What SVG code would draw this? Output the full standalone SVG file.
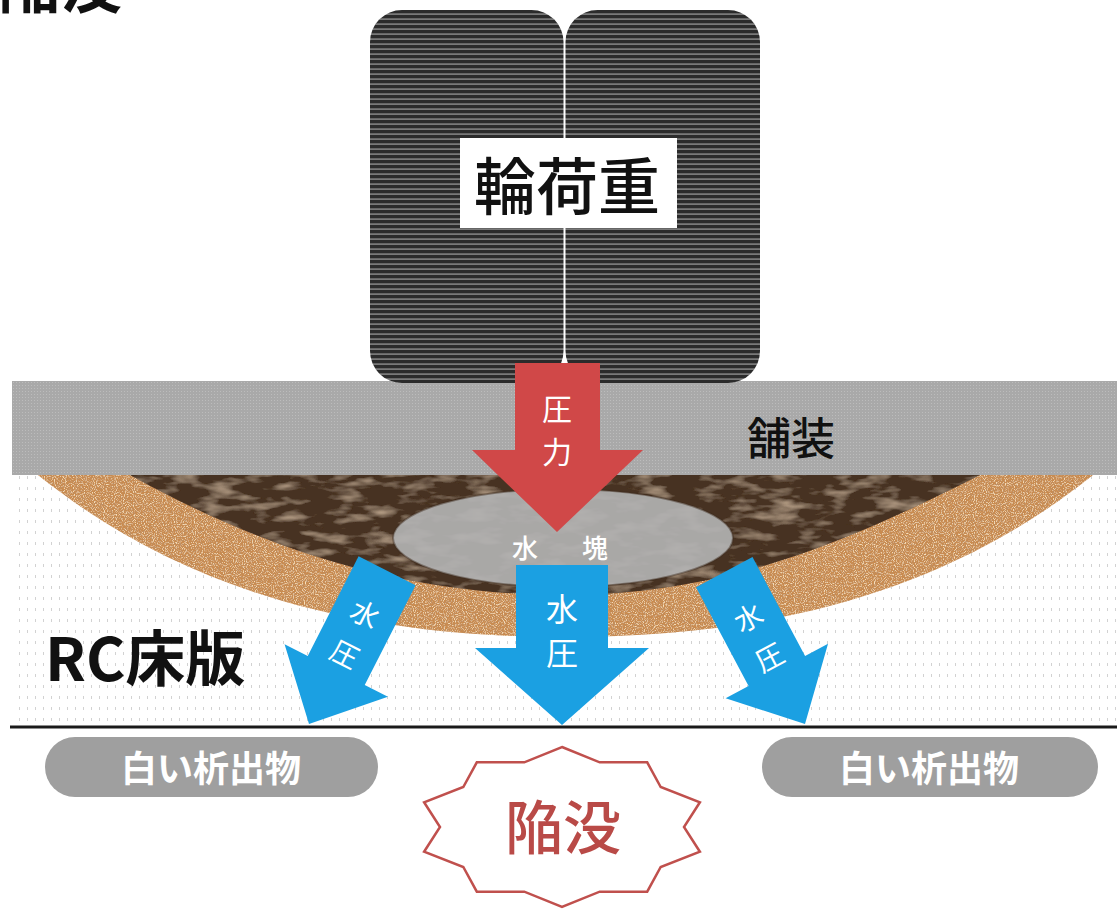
<svg xmlns="http://www.w3.org/2000/svg" width="1117" height="909" viewBox="0 0 1117 909">
  <defs>
    <style>
      .jp { font-family: "Noto Sans CJK JP", "Noto Sans", sans-serif; }
      .wt { fill: #ffffff; text-anchor: middle; dominant-baseline: central; }
      .blue { fill: #1ba0e2; }
      .pill { fill: #9f9f9f; }
      .pilltxt { fill: #ffffff; font-size: 36px; font-weight: 700; text-anchor: middle; dominant-baseline: central; }
    </style>
    <!-- horizontal tread lines of the tyres -->
    <pattern id="tread" width="10" height="5" patternUnits="userSpaceOnUse">
      <rect width="10" height="5" fill="#2b2b2b"/>
      <rect y="3.4" width="10" height="1.4" fill="#8c8c8c"/>
    </pattern>
    <!-- fine grain of the asphalt layer -->
    <pattern id="asphalt" width="3" height="3" patternUnits="userSpaceOnUse">
      <rect width="3" height="3" fill="#a9a9a9"/>
      <rect x="1" y="1" width="1" height="1" fill="#bcbcbc"/>
    </pattern>
    <!-- concrete stipple of the deck slab -->
    <pattern id="concrete" width="8" height="11" patternUnits="userSpaceOnUse">
      <rect width="8" height="11" fill="#ffffff"/>
      <rect x="3" y="3" width="1" height="3" fill="#d2d2d2"/>
    </pattern>
    <!-- sandy speckle for the weakened outer zone -->
    <filter id="sand" x="0" y="0" width="100%" height="100%">
      <feTurbulence type="fractalNoise" baseFrequency="0.7" numOctaves="2" seed="4" result="n"/>
      <feColorMatrix in="n" type="matrix" values="0 0 0 0 0.5  0 0 0 0 0.28  0 0 0 0 0.14  4 0 0 0 -2.0" result="dk"/>
      <feComposite in="dk" in2="SourceGraphic" operator="in" result="dk2"/>
      <feTurbulence type="fractalNoise" baseFrequency="0.9" numOctaves="1" seed="9" result="m"/>
      <feColorMatrix in="m" type="matrix" values="0 0 0 0 0.93  0 0 0 0 0.74  0 0 0 0 0.5  4 0 0 0 -2.0" result="lt"/>
      <feComposite in="lt" in2="SourceGraphic" operator="in" result="lt2"/>
      <feMerge><feMergeNode in="SourceGraphic"/><feMergeNode in="dk2"/><feMergeNode in="lt2"/></feMerge>
    </filter>
    <!-- streaky texture for the crumbled core -->
    <filter id="crumble" x="0" y="0" width="100%" height="100%">
      <feTurbulence type="fractalNoise" baseFrequency="0.03 0.09" numOctaves="3" seed="2" result="n"/>
      <feColorMatrix in="n" type="matrix" values="0 0 0 0 0.45  0 0 0 0 0.33  0 0 0 0 0.23  2.4 0 0 0 -1.15" result="st"/>
      <feComposite in="st" in2="SourceGraphic" operator="in" result="st2"/>
      <feMerge><feMergeNode in="SourceGraphic"/><feMergeNode in="st2"/></feMerge>
    </filter>
  </defs>

  <rect width="1117" height="909" fill="#ffffff"/>

  <!-- heading, partly cut off at the top edge -->
  <text class="jp" x="-2" y="8" font-size="62" font-weight="700" fill="#111">陥没</text>

  <!-- RC deck slab -->
  <g id="slab">
    <rect x="12" y="474" width="1105" height="253" fill="url(#concrete)"/>
    <path id="weak-zone" d="M 38 475 C 188 595, 365 637, 565 637 C 765 637, 943 595, 1093 475 Z" fill="#c98b50" filter="url(#sand)"/>
    <path id="crumbled-core" d="M 130 475 C 260 547, 400 595, 565 595 C 730 595, 857 537, 980 475 Z" fill="#473021" filter="url(#crumble)"/>
    <text class="jp" x="45" y="681" font-size="60" font-weight="700" fill="#111">RC床版</text>
  </g>

  <!-- pavement layer -->
  <g id="pavement">
    <rect x="12" y="381" width="1105" height="94" fill="url(#asphalt)"/>
    <text class="jp" x="791" y="436" font-size="44" font-weight="500" fill="#111" text-anchor="middle" dominant-baseline="central">舗装</text>
  </g>

  <!-- twin tyres carrying the wheel load -->
  <g id="wheel-load">
    <rect x="370" y="10" width="193.5" height="373" rx="32" fill="url(#tread)"/>
    <rect x="565.5" y="10" width="194.5" height="373" rx="32" fill="url(#tread)"/>
    <rect x="460" y="138" width="217" height="90" fill="#ffffff"/>
    <text class="jp" x="567" y="183" font-size="62" font-weight="500" fill="#111" text-anchor="middle" dominant-baseline="central">輪荷重</text>
  </g>

  <!-- trapped water pocket -->
  <g id="water-pocket">
    <ellipse cx="563" cy="538" rx="170" ry="49" fill="#b2b2b2" fill-opacity="0.92" stroke="#3e2c20" stroke-opacity="0.45" stroke-width="2"/>
    <text class="jp wt" x="525" y="546" font-size="26" font-weight="500">水</text>
    <text class="jp wt" x="595" y="546" font-size="26" font-weight="500">塊</text>
  </g>

  <!-- load and water-pressure arrows -->
  <g id="connectors">
    <g id="pressure">
      <path d="M 515 363 H 600 V 450 H 643 L 557 532 L 472 450 H 515 Z" fill="#d04848"/>
      <text class="jp wt" x="557" y="407" font-size="30">圧</text>
      <text class="jp wt" x="557" y="450" font-size="30">力</text>
    </g>
    <g id="water-pressure-left" transform="translate(309 724) rotate(27)">
      <path class="blue" d="M -32 -172 H 32 V -60 H 58 L 0 0 L -58 -60 H -32 Z"/>
      <text class="jp wt" x="0" y="-125" font-size="28">水</text>
      <text class="jp wt" x="0" y="-80" font-size="28">圧</text>
    </g>
    <g id="water-pressure-centre" transform="translate(562 725)">
      <path class="blue" d="M -46 -160 H 46 V -77 H 87 L 0 0 L -87 -77 H -46 Z"/>
      <text class="jp wt" x="0" y="-118" font-size="32">水</text>
      <text class="jp wt" x="0" y="-74" font-size="32">圧</text>
    </g>
    <g id="water-pressure-right" transform="translate(805 724) rotate(-28)">
      <path class="blue" d="M -32 -172 H 32 V -60 H 58 L 0 0 L -58 -60 H -32 Z"/>
      <text class="jp wt" x="0" y="-122" font-size="28">水</text>
      <text class="jp wt" x="0" y="-77" font-size="28">圧</text>
    </g>
  </g>

  <!-- underside of the slab -->
  <line x1="10" y1="727" x2="1117" y2="727" stroke="#1a1a1a" stroke-width="3"/>

  <!-- white efflorescence on the underside -->
  <g id="efflorescence-left">
    <rect class="pill" x="45" y="737" width="333" height="60" rx="30"/>
    <text class="jp pilltxt" x="211" y="766">白い析出物</text>
  </g>
  <g id="efflorescence-right">
    <rect class="pill" x="762" y="737" width="336" height="60" rx="30"/>
    <text class="jp pilltxt" x="929" y="766">白い析出物</text>
  </g>

  <!-- punching failure burst -->
  <g id="collapse">
    <path d="M 562 747 L 599.7 762.3 L 647.2 762.3 L 660.7 787 L 699.9 802.3 L 684 827 L 699.9 851.7 L 660.7 867 L 647.2 891.7 L 599.7 891.7 L 562 907 L 524.3 891.7 L 476.8 891.7 L 463.3 867 L 424.1 851.7 L 440 827 L 424.1 802.3 L 463.3 787 L 476.8 762.3 L 524.3 762.3 Z" fill="#ffffff" stroke="#c0504d" stroke-width="2.5" stroke-linejoin="miter"/>
    <text class="jp" x="563" y="824" font-size="58" font-weight="500" fill="#b94a47" text-anchor="middle" dominant-baseline="central">陥没</text>
  </g>
</svg>
